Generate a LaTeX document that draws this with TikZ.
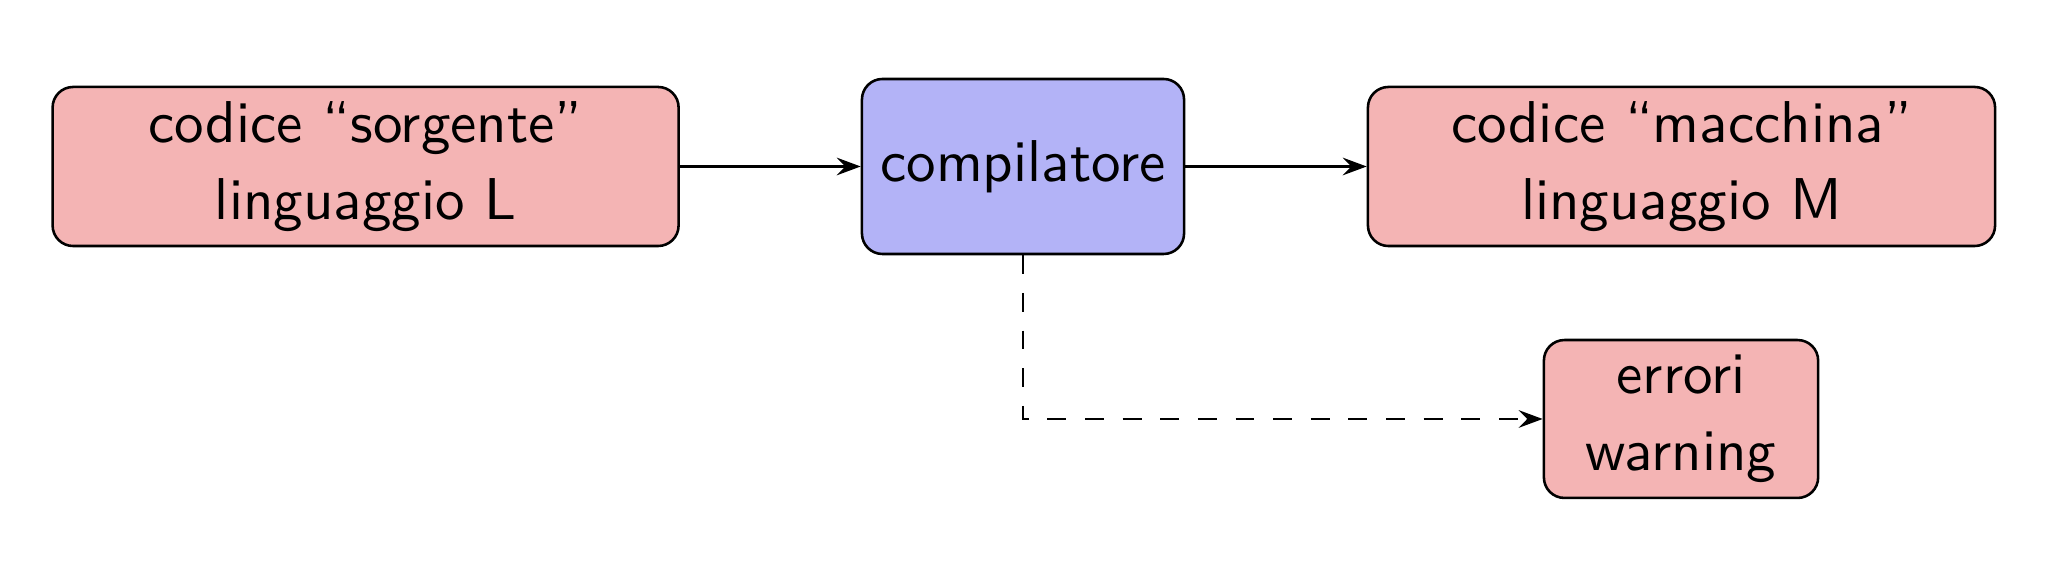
\documentclass[tikz,border=0pt]{standalone}
\usetikzlibrary{arrows.meta}
\definecolor{boxred}{RGB}{244,180,180}
\definecolor{boxblue}{RGB}{179,179,247}
\begin{document}
\begin{tikzpicture}[x=0.1754pt,y=-0.1754pt,
  box/.style={draw=black, line width=0.45pt, rounded corners=3.6pt, align=center,
    font=\sffamily\fontsize{10.35}{12.2}\selectfont, inner sep=0pt},
  redbox/.style={box, fill=boxred},
  bluebox/.style={box, fill=boxblue},
  arr/.style={-{Stealth[length=4.2pt,width=3.1pt,inset=1.5pt]}, line width=0.4pt},
  dasharr/.style={arr, dash pattern=on 3.3pt off 3.3pt}]
\useasboundingbox (0,0) rectangle (2066,574);
\node[redbox, minimum width=109.8pt, minimum height=27.9pt] (src) at (365.6,166.5)
  {codice ``sorgente''\\[1.3pt]linguaggio L};
\node[bluebox, minimum width=56.5pt, minimum height=30.7pt] (comp) at (1023,166.5)
  {compilatore};
\node[redbox, minimum width=110pt, minimum height=27.9pt] (mach) at (1681.5,166.5)
  {codice ``macchina''\\[1.3pt]linguaggio M};
\node[redbox, minimum width=48.1pt, minimum height=27.7pt] (err) at (1681,419)
  {errori\\[1.3pt]warning};
\draw[arr] (src) -- (comp);
\draw[arr] (comp) -- (mach);
\draw[dasharr] (comp.south) |- (err.west);
\end{tikzpicture}
\end{document}
